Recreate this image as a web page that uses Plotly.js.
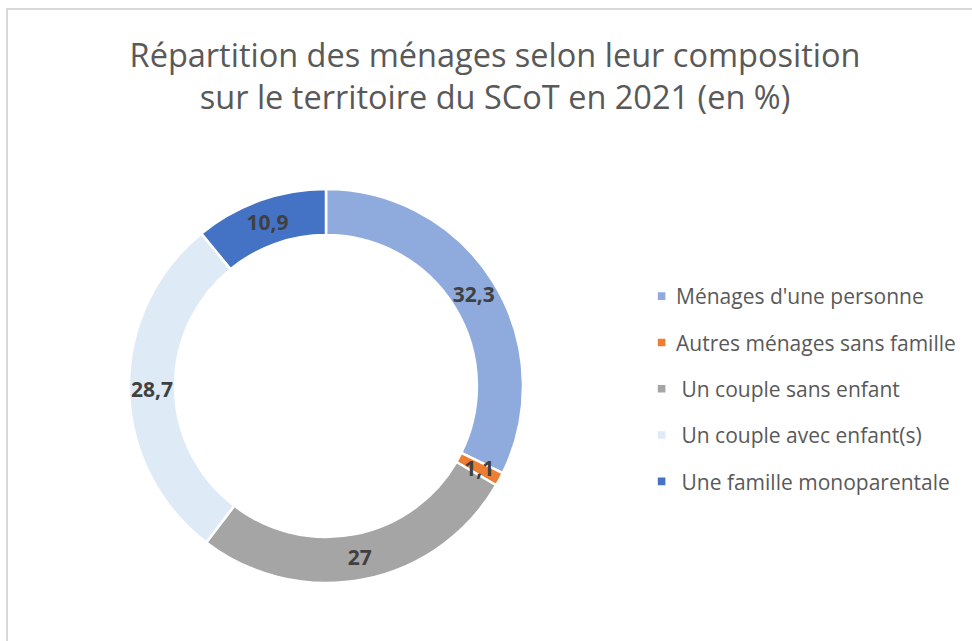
<!DOCTYPE html>
<html><head><meta charset="utf-8">
<script src="https://cdn.plot.ly/plotly-3.0.1.min.js"></script>
<style>
html,body{margin:0;padding:0;background:#fff;overflow:hidden;width:972px;height:641px}
#chart{position:absolute;left:0;top:0;width:972px;height:641px}
#frame{position:absolute;left:6px;top:8px;width:1100px;height:800px;border:2px solid #D9D9D9;pointer-events:none}
</style></head><body>
<div id="chart"></div><div id="frame"></div>
<script>
const categories = ["Ménages d'une personne", "Autres ménages sans famille", "\u00a0Un couple sans enfant", "\u00a0Un couple avec enfant(s)", "\u00a0Une famille monoparentale"];
const values = [32.3, 1.1, 27, 28.7, 10.9];
const colors = ["#8FAADC", "#ED7D31", "#A5A5A5", "#DEEBF7", "#4472C4"];
const titleLines = ["Répartition des ménages selon leur composition", "sur le territoire du SCoT en 2021 (en %)"];

const W = 972, H = 641;
const cx = 326, cy = 386, R = 197;
const HOLE = 0.766;

const trace = {
  type: 'pie',
  labels: categories,
  values: values,
  sort: false,
  direction: 'clockwise',
  rotation: 0,
  hole: HOLE,
  marker: {colors: colors, line: {color: '#FFFFFF', width: 2.5}},
  texttemplate: '%{value}',
  textposition: 'inside',
  insidetextorientation: 'horizontal',
  textfont: {family: 'Open Sans, sans-serif', size: 21, color: '#404040', weight: 'bold'},
  insidetextfont: {family: 'Open Sans, sans-serif', size: 21, color: '#404040', weight: 'bold'},
  hoverinfo: 'none',
  domain: {x: [(cx - R) / W, (cx + R) / W], y: [(H - cy - R) / H, (H - cy + R) / H]}
};

const layout = {
  width: W, height: H,
  margin: {l: 0, r: 0, t: 0, b: 0},
  paper_bgcolor: '#FFFFFF',
  separators: ', ',
  font: {family: 'Open Sans, sans-serif', color: '#595959'},
  uniformtext: {mode: 'show', minsize: 21},
  title: {
    text: titleLines.join('<br>'),
    font: {family: 'Open Sans, sans-serif', size: 32.5, color: '#595959'},
    x: 495 / W, xanchor: 'center',
    y: 1 - 67 / H, yanchor: 'middle'
  },
  showlegend: true,
  legend: {
    x: 636 / W, xanchor: 'left',
    y: 1 - 276 / H, yanchor: 'top',
    font: {family: 'Open Sans, sans-serif', size: 21, color: '#595959'},
    bgcolor: 'rgba(0,0,0,0)',
    itemclick: false, itemdoubleclick: false
  }
};

Plotly.newPlot('chart', [trace], layout, {staticPlot: true}).then(function (gd) {
  // legend spacing like the reference
  const gap = 46.3;
  const sb = gd.querySelector('.legend .scrollbox');
  if (sb) sb.removeAttribute('clip-path');
  const items = gd.querySelectorAll('.legend .traces');
  let y0 = null;
  items.forEach(function (t, i) {
    const m = /translate\(([-\d.]+)[ ,]+([-\d.]+)\)/.exec(t.getAttribute('transform') || '');
    if (!m) return;
    if (y0 === null) y0 = parseFloat(m[2]);
    t.setAttribute('transform', 'translate(' + m[1] + ',' + (y0 + i * gap) + ')');
    const lp = t.querySelector('.legendpoints');
    if (lp) lp.setAttribute('transform', 'translate(20,0) scale(0.8) translate(-20,0) translate(7,0)');
  });
  // slice labels centred on each slice's mid-angle, in the middle of the ring, drawn above all slices
  const cd = gd.calcdata[0];
  const cd0 = cd[0];
  const k = (1 + HOLE) / 2;
  const slices = gd.querySelectorAll('.pielayer .slice');
  const moved = [];
  slices.forEach(function (sl, i) {
    const t = sl.querySelector('text.slicetext');
    const pt = cd[i];
    if (!t || !pt || !pt.pxmid) return;
    const bb = t.getBBox();
    const sm = /scale\(([-\d.]+)/.exec(t.getAttribute('transform') || '');
    const s = sm ? parseFloat(sm[1]) : 1;
    const X = cd0.cx + pt.pxmid[0] * k;
    const Y = cd0.cy + pt.pxmid[1] * k;
    t.setAttribute('transform', 'translate(' + (X - s * (bb.x + bb.width / 2)) + ',' + (Y - s * (bb.y + bb.height / 2)) + ')' + (s !== 1 ? 'scale(' + s + ')' : ''));
    moved.push(t);
  });
  if (slices.length) {
    const parent = slices[0].parentNode;
    moved.forEach(function (t) { parent.appendChild(t); });
  }
});
</script>
</body></html>
